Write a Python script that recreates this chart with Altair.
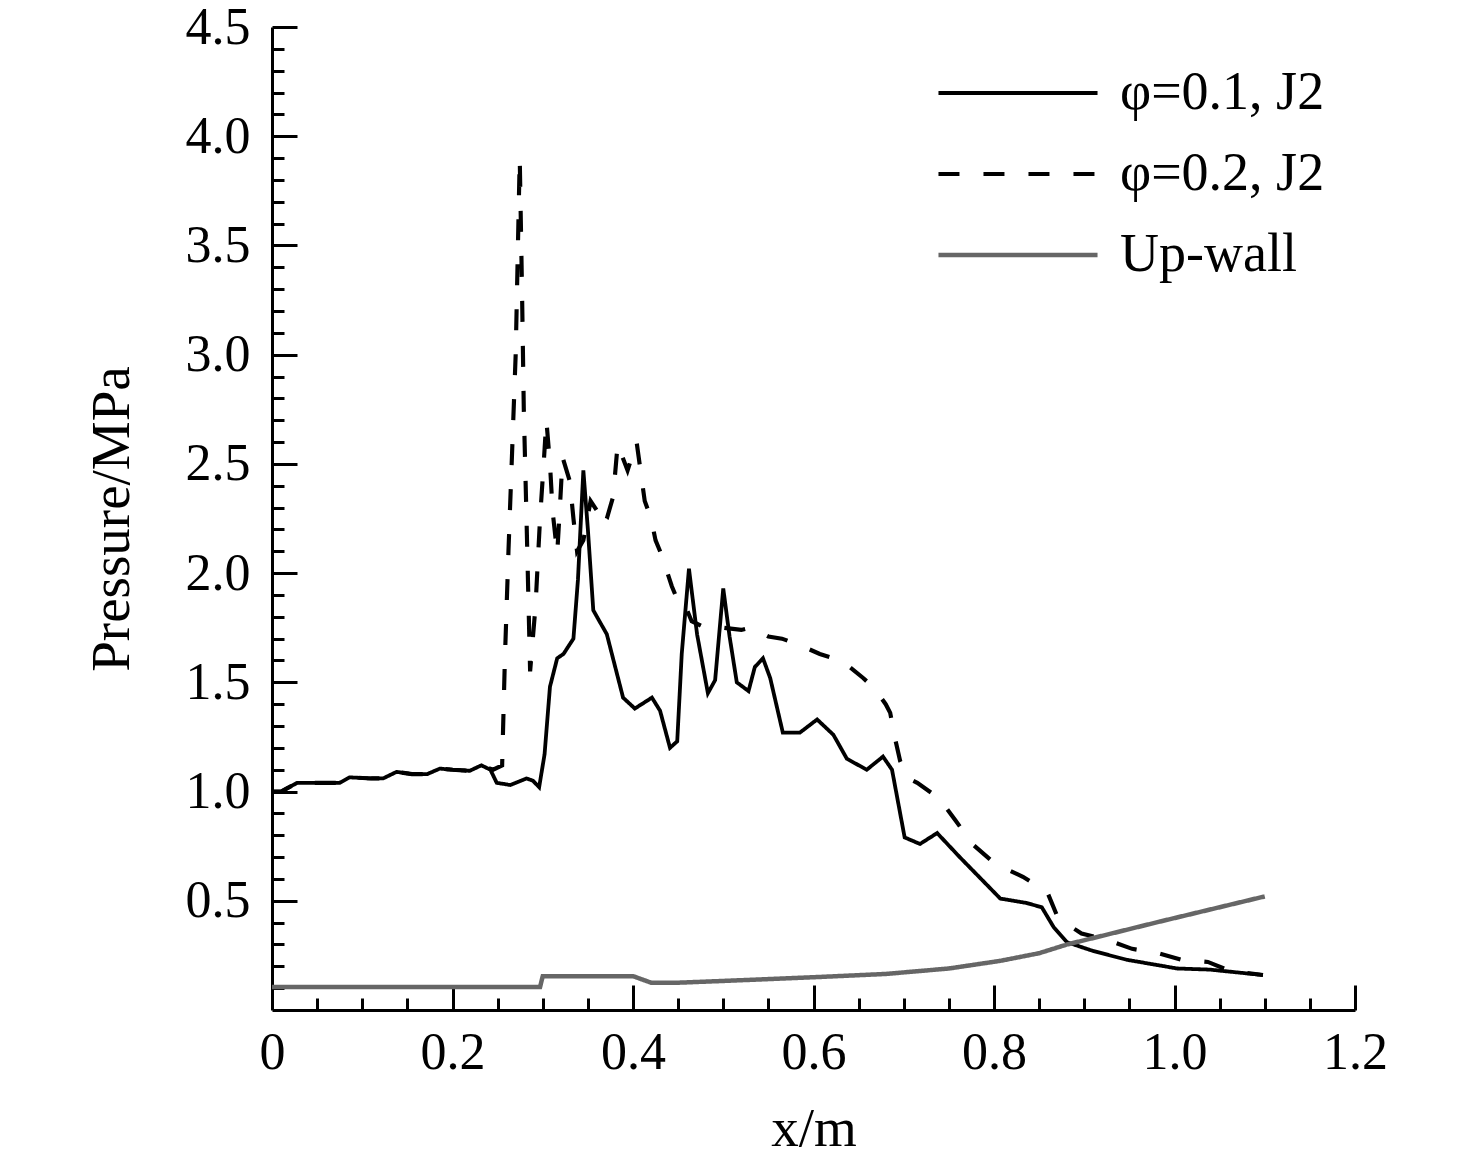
import altair as alt
import pandas as pd

# ---------------- data ----------------
series_names = ["φ=0.1, J2", "φ=0.2, J2", "Up-wall"]

solid_x = [0.0, 0.01, 0.028, 0.05, 0.075, 0.086, 0.11, 0.123, 0.138, 0.155, 0.172, 0.186, 0.2,
           0.219, 0.232, 0.242, 0.249, 0.264, 0.282, 0.289, 0.296, 0.302, 0.308, 0.316, 0.323,
           0.334, 0.339, 0.345, 0.350, 0.356, 0.371, 0.389, 0.402, 0.421, 0.430, 0.441, 0.449,
           0.454, 0.462, 0.471, 0.483, 0.491, 0.500, 0.507, 0.515, 0.528, 0.535, 0.544, 0.552,
           0.566, 0.585, 0.604, 0.622, 0.637, 0.659, 0.677, 0.687, 0.701, 0.718, 0.737, 0.762,
           0.807, 0.836, 0.853, 0.866, 0.881, 0.910, 0.947, 1.003, 1.039, 1.098]
solid_y = [1.00, 1.00, 1.04, 1.04, 1.04, 1.065, 1.06, 1.06, 1.09, 1.08, 1.08, 1.105, 1.10,
           1.095, 1.12, 1.10, 1.04, 1.03, 1.06, 1.05, 1.02, 1.17, 1.48, 1.61, 1.63,
           1.70, 1.97, 2.47, 2.20, 1.83, 1.72, 1.43, 1.38, 1.43, 1.37, 1.20, 1.23,
           1.63, 2.02, 1.72, 1.45, 1.51, 1.93, 1.71, 1.50, 1.46, 1.57, 1.61, 1.52,
           1.27, 1.27, 1.33, 1.26, 1.15, 1.10, 1.16, 1.10, 0.79, 0.76, 0.81, 0.70,
           0.51, 0.49, 0.47, 0.38, 0.31, 0.27, 0.23, 0.19, 0.185, 0.16]

dash_x = [0.0, 0.01, 0.028, 0.05, 0.075, 0.086, 0.11, 0.123, 0.138, 0.155, 0.172, 0.186, 0.2,
          0.219, 0.232, 0.245, 0.255, 0.258, 0.262, 0.266, 0.270, 0.2745, 0.277, 0.279, 0.282,
          0.286, 0.292, 0.297, 0.301, 0.304, 0.308, 0.311, 0.316, 0.319, 0.322, 0.330, 0.334,
          0.338, 0.345, 0.353, 0.361, 0.366, 0.371, 0.378, 0.383, 0.394, 0.404, 0.413, 0.420,
          0.425, 0.432, 0.443, 0.452, 0.458, 0.465, 0.48, 0.50, 0.52, 0.53, 0.536, 0.55,
          0.565, 0.585, 0.607, 0.63, 0.64, 0.655, 0.668, 0.68, 0.685, 0.69, 0.696, 0.705,
          0.715, 0.739, 0.757, 0.776, 0.801, 0.832, 0.859, 0.871, 0.897, 0.926, 0.953, 0.982,
          1.008, 1.037, 1.061, 1.098]
dash_y = [1.00, 1.00, 1.04, 1.04, 1.04, 1.065, 1.06, 1.06, 1.09, 1.08, 1.08, 1.105, 1.10,
          1.095, 1.12, 1.10, 1.12, 1.60, 2.10, 2.55, 3.00, 3.90, 3.30, 2.75, 2.25,
          1.55, 1.85, 2.25, 2.50, 2.70, 2.50, 2.28, 2.09, 2.30, 2.53, 2.42, 2.25,
          2.10, 2.15, 2.33, 2.28, 2.22, 2.25, 2.35, 2.59, 2.47, 2.60, 2.33, 2.25,
          2.15, 2.08, 1.94, 1.85, 1.85, 1.78, 1.75, 1.75, 1.74, 1.75, 1.74, 1.71,
          1.70, 1.67, 1.63, 1.60, 1.57, 1.52, 1.47, 1.40, 1.36, 1.25, 1.14, 1.06,
          1.04, 0.97, 0.87, 0.76, 0.67, 0.61, 0.54, 0.42, 0.35, 0.32, 0.28, 0.26,
          0.23, 0.22, 0.18, 0.16]

wall_x = [0.0, 0.267, 0.297, 0.300, 0.40, 0.42, 0.45, 0.50, 0.60, 0.68, 0.75, 0.807, 0.85,
          0.881, 0.984, 1.10]
wall_y = [0.105, 0.105, 0.105, 0.155, 0.155, 0.125, 0.125, 0.133, 0.15, 0.165, 0.19, 0.225, 0.26,
          0.30, 0.405, 0.52]

x_major = [0, 0.2, 0.4, 0.6, 0.8, 1.0, 1.2]
y_major = [0.5, 1.0, 1.5, 2.0, 2.5, 3.0, 3.5, 4.0, 4.5]

# ---------------- build table ----------------
rows = []
for name, xs, ys in zip(series_names, [solid_x, dash_x, wall_x], [solid_y, dash_y, wall_y]):
    for i, (a, b) in enumerate(zip(xs, ys)):
        rows.append({"series": name, "x": a, "p": b, "order": i})
df = pd.DataFrame(rows)

x_tick_major = [v for v in x_major if v > 0]
x_minor = [round(i * 0.05, 2) for i in range(1, 24) if i % 4 != 0]
y_minor = [round(i * 0.1, 1) for i in range(1, 45) if i % 5 != 0]

FONT = "Liberation Serif"
W, H = 1083, 983
xscale = alt.Scale(domain=[0, 1.2], nice=False, zero=False)
yscale = alt.Scale(domain=[0, 4.5], nice=False, zero=False)


def legend():
    return alt.Legend(title=None, orient="none", legendX=664, legendY=38,
                      labelFont=FONT, labelFontSize=54, labelColor="black",
                      symbolType="stroke", symbolSize=25300, symbolStrokeWidth=4,
                      clipHeight=56, labelOffset=20, rowPadding=25, padding=0, labelLimit=0)


base = alt.Chart(df)

lines = base.mark_line(clip=True).encode(
    x=alt.X("x:Q", scale=xscale,
            axis=alt.Axis(orient="bottom", values=x_major,
                          labelExpr="datum.value == 0 ? '0' : format(datum.value, '.1f')",
                          ticks=False, tickSize=0, domainWidth=3, domainColor="black",
                          labelFont=FONT, labelFontSize=52, labelColor="black", labelPadding=17,
                          labelFlush=False, labelOverlap=False, grid=False,
                          title="x/m", titleFont=FONT, titleFontSize=55, titleFontWeight="normal",
                          titleColor="black", titlePadding=24)),
    y=alt.Y("p:Q", scale=yscale,
            axis=alt.Axis(orient="left", values=y_major, format=".1f",
                          ticks=False, tickSize=0, domainWidth=3, domainColor="black",
                          labelFont=FONT, labelFontSize=52, labelColor="black", labelPadding=22,
                          labelFlush=False, labelOverlap=False, grid=False,
                          title="Pressure/MPa", titleFont=FONT, titleFontSize=55,
                          titleFontWeight="normal", titleColor="black", titlePadding=45)),
    color=alt.Color("series:N",
                    scale=alt.Scale(domain=series_names, range=["#000000", "#000000", "#666666"]),
                    legend=legend()),
    strokeDash=alt.StrokeDash("series:N",
                              scale=alt.Scale(domain=series_names, range=[[1, 0], [21, 24], [1, 0]]),
                              legend=legend()),
    strokeWidth=alt.StrokeWidth("series:N",
                                scale=alt.Scale(domain=series_names, range=[3.8, 4.5, 3]),
                                legend=None),
    order="order:Q",
)


def tick_layer(xvals, yvals, size):
    return base.mark_line(opacity=0).encode(
        x=alt.X("x:Q", scale=xscale,
                axis=alt.Axis(orient="top", offset=-H, values=xvals, tickSize=size, tickWidth=3,
                              tickColor="black", labels=False, domain=False, grid=False, title=None)),
        y=alt.Y("p:Q", scale=yscale,
                axis=alt.Axis(orient="right", offset=-W, values=yvals, tickSize=size, tickWidth=3,
                              tickColor="black", labels=False, domain=False, grid=False, title=None)),
        detail="series:N",
    )


chart = alt.layer(
    lines,
    tick_layer(x_tick_major, y_major, 25),
    tick_layer(x_minor, y_minor, 12),
).resolve_axis(x="independent", y="independent").properties(
    width=W, height=H,
    autosize=alt.AutoSizeParams(type="none"),
    padding={"left": 264, "top": 19, "right": 60, "bottom": 146},
    background="white",
).configure_view(stroke=None)

chart.save("out.html", embed_options={"renderer": "svg", "actions": False})
